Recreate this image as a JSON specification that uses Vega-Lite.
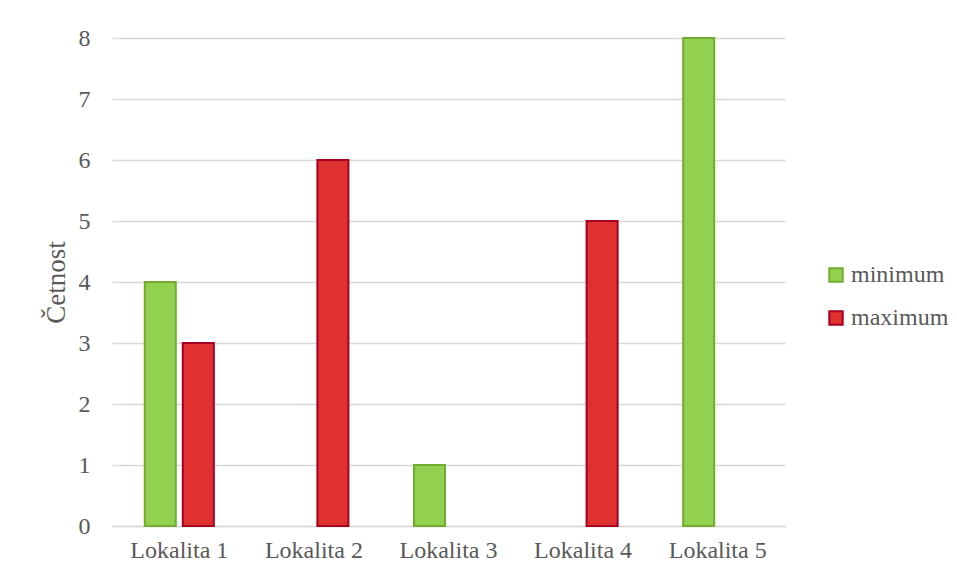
{
  "$schema": "https://vega.github.io/schema/vega-lite/v6.json",
  "autosize": "none",
  "width": 673,
  "height": 488,
  "padding": {"left": 112, "top": 38, "right": 172, "bottom": 53},
  "background": "white",
  "config": {
    "font": "Times New Roman, Liberation Serif, serif",
    "view": {"stroke": null},
    "axis": {"labelFont": "Times New Roman, Liberation Serif, serif", "titleFont": "Times New Roman, Liberation Serif, serif", "labelColor": "#595959", "titleColor": "#595959"},
    "legend": {"labelFont": "Times New Roman, Liberation Serif, serif", "labelColor": "#595959"}
  },
  "data": {
    "values": [
      {"lokalita": "Lokalita 1", "serie": "minimum", "value": 4},
      {"lokalita": "Lokalita 1", "serie": "maximum", "value": 3},
      {"lokalita": "Lokalita 2", "serie": "minimum", "value": 0},
      {"lokalita": "Lokalita 2", "serie": "maximum", "value": 6},
      {"lokalita": "Lokalita 3", "serie": "minimum", "value": 1},
      {"lokalita": "Lokalita 3", "serie": "maximum", "value": 0},
      {"lokalita": "Lokalita 4", "serie": "minimum", "value": 0},
      {"lokalita": "Lokalita 4", "serie": "maximum", "value": 5},
      {"lokalita": "Lokalita 5", "serie": "minimum", "value": 8},
      {"lokalita": "Lokalita 5", "serie": "maximum", "value": 0}
    ]
  },
  "transform": [{"filter": "datum.value > 0"}],
  "mark": {"type": "bar", "strokeWidth": 2},
  "encoding": {
    "x": {
      "field": "lokalita", "type": "nominal",
      "scale": {"paddingInner": 0.487, "paddingOuter": 0.2435},
      "axis": {"title": null, "labelAngle": 0, "labelFontSize": 24, "labelPadding": 12, "ticks": false, "domainColor": "#d9d9d9", "domainWidth": 1.5, "grid": false}
    },
    "xOffset": {
      "field": "serie", "type": "nominal",
      "sort": ["minimum", "maximum"],
      "scale": {"domain": ["minimum", "maximum"], "paddingInner": 0.184, "paddingOuter": 0}
    },
    "y": {
      "field": "value", "type": "quantitative",
      "scale": {"domain": [0, 8]},
      "axis": {"title": "Četnost", "titleFontSize": 27, "titleFontWeight": "normal", "titlePadding": 8, "labelFontSize": 24, "labelPadding": 22, "ticks": false, "domain": false, "gridColor": "#d9d9d9", "gridWidth": 1.5, "values": [0,1,2,3,4,5,6,7,8]}
    },
    "color": {
      "field": "serie", "type": "nominal",
      "scale": {"domain": ["minimum", "maximum"], "range": ["#92D050", "#E03131"]},
      "legend": {"title": null, "orient": "none", "legendX": 712, "legendY": 225, "labelFontSize": 24, "symbolType": "square", "symbolSize": 180, "symbolStrokeWidth": 2, "rowPadding": 19, "labelOffset": 3}
    },
    "stroke": {
      "field": "serie", "type": "nominal",
      "scale": {"domain": ["minimum", "maximum"], "range": ["#72AC30", "#A50021"]},
      "legend": null
    }
  }
}
